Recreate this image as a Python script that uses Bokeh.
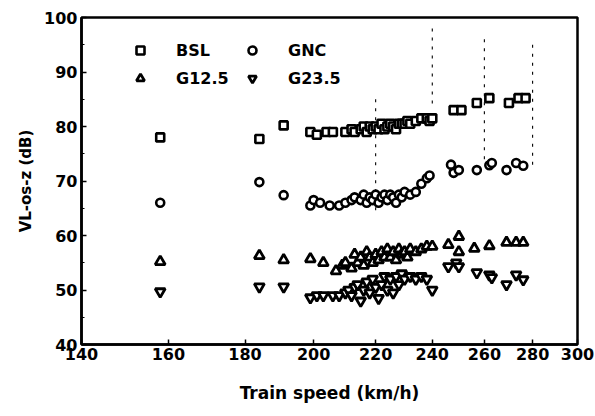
from bokeh.plotting import figure
from bokeh.embed import file_html
from bokeh.resources import INLINE
from bokeh.models import FixedTicker, PrintfTickFormatter, Legend, LegendItem

# ---- data (train speed km/h, level dB) ----
bsl_x = [158, 184, 191, 199, 201, 204, 206, 210, 212, 213, 215, 216, 217, 218, 219, 220, 221, 222, 223,
         224, 225, 226, 227, 228, 229, 230, 231, 232, 234, 236, 238, 239, 240, 248, 251, 257, 262, 270, 274, 277]
bsl_y = [78, 77.7, 80.2, 79, 78.5, 79, 79, 79, 79.5, 79, 79.5, 80, 79, 80, 79.5, 80, 79.5, 80.5, 79.5,
         80, 80.5, 80, 79.5, 80.5, 80.5, 80.5, 81, 80.5, 81, 81.5, 81.5, 81, 81.5, 83, 83, 84.3, 85.2, 84.3, 85.2, 85.2]

gnc_x = [158, 184, 191, 199, 200, 202, 205, 208, 210, 212, 213, 215, 216, 217, 218, 219, 220, 221, 222,
         223, 224, 225, 226, 227, 228, 229, 230, 232, 234, 236, 238, 239, 247, 248, 250, 257, 262, 263, 269, 273, 276]
gnc_y = [66, 69.8, 67.4, 65.5, 66.5, 66, 65.5, 65.5, 66, 66.5, 67, 66.5, 67.5, 66, 67, 66.5, 67.5, 66, 67,
         67.5, 66.5, 67.5, 67, 66, 67.5, 67, 68, 67.5, 68, 69.5, 70.5, 71, 73, 71.5, 72, 72, 72.9, 73.3, 72, 73.3, 72.8]

g125_x = [158, 184, 191, 199, 203, 207, 209, 210, 212, 213, 214, 215, 216, 217, 218, 219, 220, 221, 222,
          223, 224, 225, 226, 227, 228, 229, 230, 231, 232, 234, 236, 238, 240, 246, 250, 250, 256, 262, 269, 273, 276]
g125_y = [55.2, 56.3, 55.5, 55.7, 55, 53.5, 54.5, 55, 54, 56.5, 55, 56, 54.5, 57, 56, 55, 56.5, 55.5, 57,
          56, 57.5, 56, 57, 55.5, 57.5, 56.5, 57, 56, 57.5, 57, 57.5, 58, 58, 58.3, 59.8, 57, 57.6, 58.1, 58.7, 58.7, 58.7]

g235_x = [158, 184, 191, 199, 201, 203, 206, 208, 210, 211, 212, 213, 214, 215, 216, 217, 218, 219, 220,
          221, 222, 223, 224, 225, 226, 227, 228, 229, 230, 232, 234, 236, 238, 240, 246, 249, 250, 257, 262, 263, 269, 273, 276]
g235_y = [49.7, 50.6, 50.6, 48.6, 49, 49, 49, 49, 49.5, 50, 49, 50.5, 51, 48, 50, 51.5, 49.5, 52, 50.5,
          48.5, 51, 52.5, 50, 52, 49.5, 52.5, 51, 53, 52, 52.5, 52, 52.5, 52, 50, 54.3, 55, 54.3, 53.2, 52.8, 52.3, 51, 52.8, 51.9]

x_ticks = [140, 160, 180, 200, 220, 240, 260, 280, 300]
y_ticks = [40, 50, 60, 70, 80, 90, 100]

# faint dashed guide traces visible in the scan
guide_x = [220, 240, 260, 280]
guide_y0 = [85, 98, 96, 95]
guide_y1 = [64, 84, 74, 72]

p = figure(width=595, height=416, x_axis_type="log", x_range=(140, 300), y_range=(40, 100),
           output_backend="svg", toolbar_location=None,
           min_border_left=81, min_border_right=18, min_border_top=17, min_border_bottom=72)
p.background_fill_color = "white"
p.border_fill_color = "white"
p.grid.visible = False
p.outline_line_color = "black"
p.outline_line_width = 2.5

p.segment(x0=guide_x, y0=guide_y0, x1=guide_x, y1=guide_y1, line_color="black",
          line_width=1.1, line_dash="3 6")

lw = 2.6
r_bsl = p.scatter(bsl_x, bsl_y, marker="square", size=8, fill_color="white", line_color="black", line_width=lw)
r_gnc = p.scatter(gnc_x, gnc_y, marker="circle", size=8, fill_color="white", line_color="black", line_width=lw)
r_g125 = p.scatter(g125_x, g125_y, marker="triangle", size=10, fill_color="white", line_color="black", line_width=2.8)
r_g235 = p.scatter(g235_x, g235_y, marker="inverted_triangle", size=10, fill_color="white", line_color="black", line_width=2.8)

font = "DejaVu Sans"
for ax in (p.xaxis[0], p.yaxis[0]):
    ax.axis_line_width = 2.5
    ax.major_tick_in = 5
    ax.major_tick_out = 0
    ax.minor_tick_in = 3
    ax.minor_tick_out = 0
    ax.major_tick_line_width = 1.5
    ax.major_label_text_font = font
    ax.major_label_text_font_style = "bold"
    ax.major_label_text_font_size = "16px"
    ax.major_label_text_color = "black"
    ax.axis_label_text_font = font
    ax.axis_label_text_font_style = "bold"
    ax.axis_label_text_color = "black"

p.xaxis.ticker = FixedTicker(ticks=x_ticks, minor_ticks=[])
p.xaxis.formatter = PrintfTickFormatter(format="%d")
p.xaxis.major_label_standoff = 3
p.xaxis.axis_label = "Train speed (km/h)"
p.xaxis.axis_label_text_font_size = "17px"
p.xaxis.axis_label_standoff = 20

p.yaxis.ticker = FixedTicker(ticks=y_ticks, minor_ticks=[45, 55, 65, 75, 85, 95])
p.yaxis.major_label_standoff = 4
p.yaxis.axis_label = "VL-os-z (dB)"
p.yaxis.axis_label_text_font_size = "15px"
p.yaxis.axis_label_standoff = 6

legend = Legend(items=[LegendItem(label="BSL", renderers=[r_bsl]),
                       LegendItem(label="GNC", renderers=[r_gnc]),
                       LegendItem(label="G12.5", renderers=[r_g125]),
                       LegendItem(label="G23.5", renderers=[r_g235])],
                location=(49, 256), orientation="horizontal", ncols=2)
legend.border_line_color = None
legend.background_fill_alpha = 0
legend.padding = 0
legend.margin = 0
legend.spacing = 8
legend.glyph_width = 20
legend.glyph_height = 20
legend.label_standoff = 26
legend.label_width = 58
legend.label_text_font = font
legend.label_text_font_style = "bold"
legend.label_text_font_size = "16px"
legend.label_text_color = "black"
legend.label_height = 20
p.add_layout(legend, "center")

open("out.html", "w").write(file_html(p, INLINE))
